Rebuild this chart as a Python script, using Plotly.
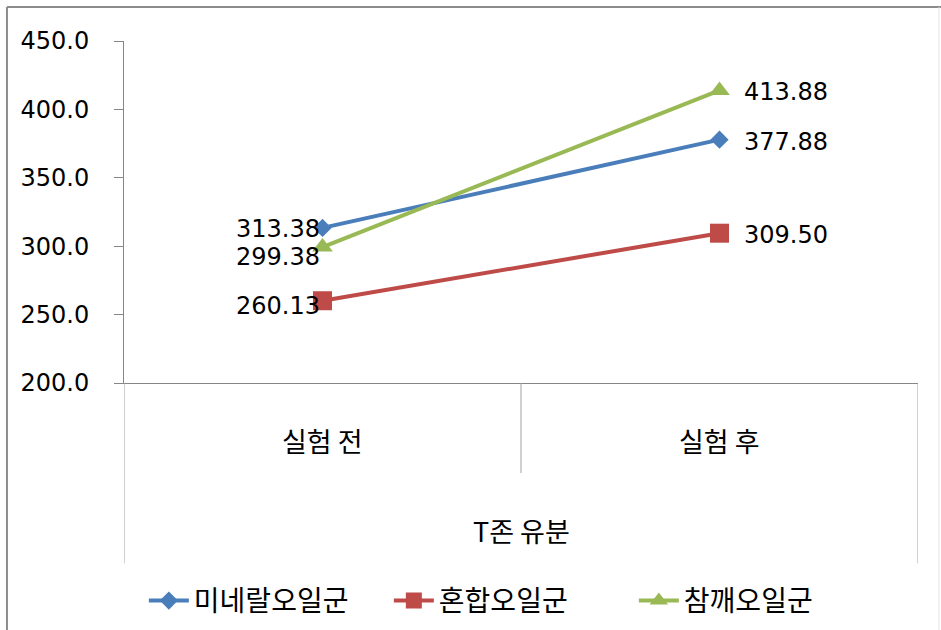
import plotly.graph_objects as go

categories = ["실험 전", "실험 후"]
group_label = "T존 유분"
series_names = ["미네랄오일군", "혼합오일군", "참깨오일군"]
mineral = [313.38, 377.88]
mixed = [260.13, 309.50]
sesame = [299.38, 413.88]
y_ticks = [200, 250, 300, 350, 400, 450]

series = [mineral, mixed, sesame]
colors = ["#4A7EBB", "#BE4B48", "#98B954"]
symbols = ["diamond", "square", "triangle-up"]
sizes = [14, 19, 18]

fig = go.Figure()
for name, vals, col, sym, sz in zip(series_names, series, colors, symbols, sizes):
    fig.add_trace(go.Scatter(
        x=categories, y=vals, name=name, mode="lines+markers",
        line=dict(color=col, width=4),
        marker=dict(symbol=sym, size=sz, color=col),
    ))

num_font = dict(family="DejaVu Sans", size=24, color="#000000")
kr_font = "Noto Sans CJK KR"

# data labels: left point labels to the left, right point labels to the right
left_yshift = [-1, -5, -10]
for vals, ys in zip(series, left_yshift):
    fig.add_annotation(x=categories[0], y=vals[0], text=f"{vals[0]:.2f}",
                       showarrow=False, xanchor="right", yanchor="middle",
                       xshift=-1, yshift=ys, font=num_font)
    fig.add_annotation(x=categories[1], y=vals[1], text=f"{vals[1]:.2f}",
                       showarrow=False, xanchor="left", yanchor="middle",
                       xshift=22, yshift=-2, font=num_font)

# category labels and group label
for c in categories:
    fig.add_annotation(x=c, y=-0.167, xref="x", yref="paper", text=c,
                       showarrow=False, yanchor="middle",
                       font=dict(family=kr_font, size=27, color="#000000"))
fig.add_annotation(x=0.5, y=-0.43, xref="x", yref="paper", text=group_label,
                   showarrow=False, yanchor="middle",
                   font=dict(family=kr_font, size=27, color="#000000"))

axis_col = "#868686"
# category dividers below the axis
for xv, y1 in [(-0.5, -0.527), (0.5, -0.263), (1.5, -0.527)]:
    fig.add_shape(type="line", xref="x", yref="paper", x0=xv, x1=xv, y0=0, y1=y1,
                  line=dict(color="#A0A0A0", width=1))

# outer frame
fig.add_shape(type="line", xref="paper", yref="paper", x0=-0.1474, x1=-0.1474,
              y0=1.0994, y1=-0.8, line=dict(color="#8C8C8C", width=2))
fig.add_shape(type="line", xref="paper", yref="paper", x0=-0.1474, x1=1.03,
              y0=1.0994, y1=1.0994, line=dict(color="#8C8C8C", width=2))
fig.add_shape(type="line", xref="paper", yref="paper", x0=1.0264, x1=1.0264,
              y0=1.0994, y1=-0.8, line=dict(color="#E6E6E6", width=1))

fig.update_layout(
    width=941, height=630,
    margin=dict(l=124, r=23, t=41, b=247, autoexpand=False),
    paper_bgcolor="white", plot_bgcolor="white",
    showlegend=True,
    legend=dict(orientation="h", x=0.025, xanchor="left", y=-0.637, yanchor="middle",
                font=dict(family=kr_font, size=28, color="#000000"),
                entrywidth=190, entrywidthmode="pixels", itemwidth=40,
                bgcolor="rgba(0,0,0,0)"),
    xaxis=dict(type="category", range=[-0.5, 1.5], showticklabels=False,
               showline=True, linecolor=axis_col, linewidth=1, ticks="",
               showgrid=False, zeroline=False, fixedrange=True, automargin=False),
    yaxis=dict(range=[200, 450], tickvals=y_ticks, tickformat=".1f",
               showline=True, linecolor=axis_col, linewidth=1,
               ticks="outside", ticklen=9, tickcolor=axis_col,
               ticklabelstandoff=20, tickfont=num_font, automargin=False,
               showgrid=False, zeroline=False),
)

# remove the default 8px page margin so the figure fills the window exactly
fig.write_html("out.html", config={"displayModeBar": False},
               post_script="document.body.style.margin='0';document.body.style.overflow='hidden';")
